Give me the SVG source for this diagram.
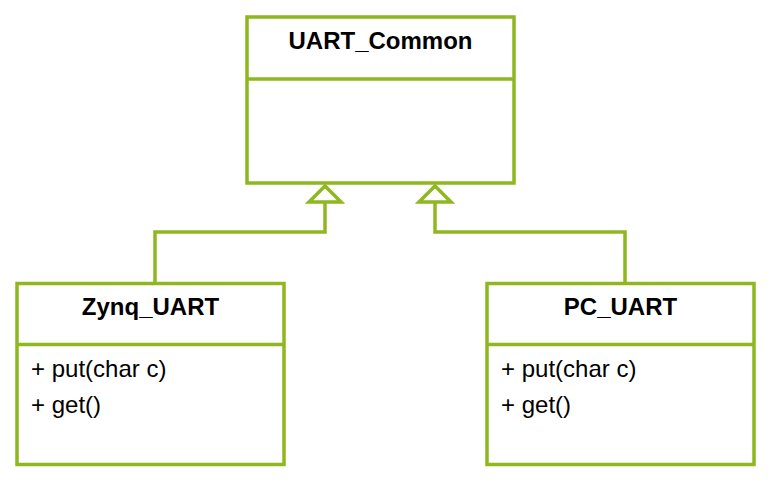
<svg xmlns="http://www.w3.org/2000/svg" width="770" height="485" viewBox="0 0 770 485">
<style>
.box{fill:#fff;stroke:#8fb71f;stroke-width:3.5}
.ln{fill:none;stroke:#8fb71f;stroke-width:3.5}
.t{font-family:"Liberation Sans",Arial,sans-serif;font-size:24px;fill:#000}
.b{font-weight:bold;text-anchor:middle}
</style>
<rect width="770" height="485" fill="#fff"/>
<g id="connectors">
<path class="ln" d="M155,283 V232 H325 V202"/>
<path class="ln" d="M625,283 V232 H435 V202"/>
<path class="ln" d="M325,186 L341,202 H309 Z" fill="#fff"/>
<path class="ln" d="M435,186 L451,202 H419 Z" fill="#fff"/>
</g>
<g id="UART_Common">
<rect class="box" x="247" y="17" width="267" height="166"/>
<line class="ln" x1="247" y1="79" x2="514" y2="79"/>
<text class="t b" x="380.5" y="49">UART_Common</text>
</g>
<g id="Zynq_UART">
<rect class="box" x="17" y="283.5" width="267" height="181"/>
<line class="ln" x1="17" y1="344.5" x2="284" y2="344.5"/>
<text class="t b" x="150.5" y="315">Zynq_UART</text>
<text class="t" x="31" y="377">+ put(char c)</text>
<text class="t" x="31" y="413">+ get()</text>
</g>
<g id="PC_UART">
<rect class="box" x="487" y="283.5" width="267" height="181"/>
<line class="ln" x1="487" y1="344.5" x2="754" y2="344.5"/>
<text class="t b" x="620.5" y="315">PC_UART</text>
<text class="t" x="501" y="377">+ put(char c)</text>
<text class="t" x="501" y="413">+ get()</text>
</g>
</svg>
